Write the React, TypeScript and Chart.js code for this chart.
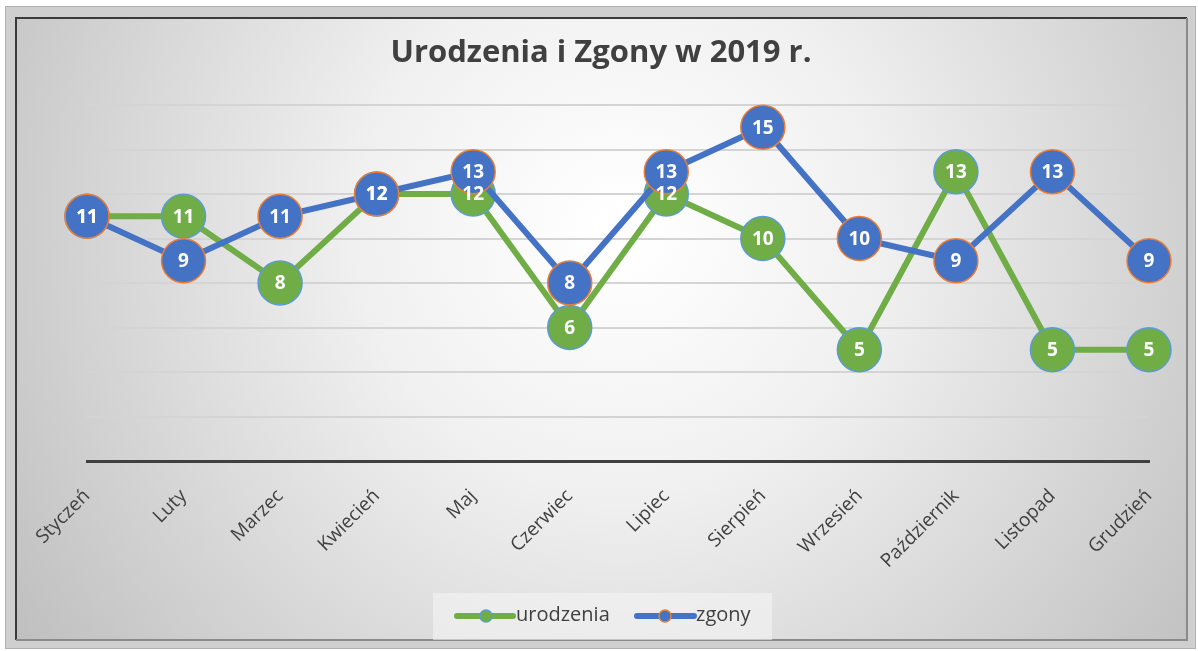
import React, { useEffect, useRef } from "react";
import { Chart, registerables } from "chart.js";

Chart.register(...registerables);

const months = ["Styczeń", "Luty", "Marzec", "Kwiecień", "Maj", "Czerwiec", "Lipiec", "Sierpień", "Wrzesień", "Październik", "Listopad", "Grudzień"];
const urodzenia = [11, 11, 8, 12, 12, 6, 12, 10, 5, 13, 5, 5];
const zgony = [11, 9, 11, 12, 13, 8, 13, 15, 10, 9, 13, 9];
const chartTitle = "Urodzenia i Zgony w 2019 r.";
const seriesNames = ["urodzenia", "zgony"];

const GREEN = "#70AD47";
const GREEN_BORDER = "#5B9BD5";
const BLUE = "#4472C4";
const BLUE_BORDER = "#ED7D31";
const FONT = "'Open Sans', 'Noto Sans', sans-serif";

const W = 1198;
const H = 651;

const decor = {
  id: "decor",
  beforeDraw(chart: any) {
    const ctx = chart.ctx;
    ctx.save();
    ctx.fillStyle = "#ffffff";
    ctx.fillRect(0, 0, W, H);
    ctx.fillStyle = "#cfcfcf";
    ctx.fillRect(5, 6, 1191, 643);
    ctx.strokeStyle = "#b0b0b0";
    ctx.lineWidth = 1;
    ctx.strokeRect(5.5, 6.5, 1190, 642);
    const g = ctx.createRadialGradient(620, 230, 20, 620, 230, 720);
    g.addColorStop(0, "#ffffff");
    g.addColorStop(0.35, "#f0f0f0");
    g.addColorStop(1, "#c0c0c0");
    ctx.fillStyle = g;
    ctx.fillRect(15, 17, 1172, 623);
    ctx.strokeStyle = "#3a3a3a";
    ctx.lineWidth = 2;
    ctx.beginPath();
    ctx.moveTo(16, 640);
    ctx.lineTo(16, 18);
    ctx.lineTo(1187, 18);
    ctx.stroke();
    ctx.strokeStyle = "#8a8a8a";
    ctx.beginPath();
    ctx.moveTo(1187, 18);
    ctx.lineTo(1187, 640);
    ctx.lineTo(16, 640);
    ctx.stroke();
    ctx.fillStyle = "#404040";
    ctx.font = `bold 31px ${FONT}`;
    ctx.textAlign = "center";
    ctx.textBaseline = "middle";
    ctx.fillText(chartTitle, 601, 53);
    ctx.fillStyle = "rgba(245,245,245,0.55)";
    ctx.fillRect(433, 593, 339, 47);
    const items = [
      { name: seriesNames[0], x0: 457, x1: 513, cx: 486, tx: 516, c: GREEN, b: GREEN_BORDER },
      { name: seriesNames[1], x0: 637, x1: 694, cx: 665, tx: 696, c: BLUE, b: BLUE_BORDER },
    ];
    for (const it of items) {
      ctx.strokeStyle = it.c;
      ctx.lineWidth = 6;
      ctx.lineCap = "round";
      ctx.beginPath();
      ctx.moveTo(it.x0, 616);
      ctx.lineTo(it.x1, 616);
      ctx.stroke();
      ctx.beginPath();
      ctx.arc(it.cx, 616, 6, 0, Math.PI * 2);
      ctx.fillStyle = it.c;
      ctx.fill();
      ctx.strokeStyle = it.b;
      ctx.lineWidth = 1.5;
      ctx.stroke();
      ctx.fillStyle = "#404040";
      ctx.font = `20px ${FONT}`;
      ctx.textAlign = "left";
      ctx.textBaseline = "middle";
      ctx.fillText(it.name, it.tx, 615);
    }
    ctx.restore();
  },
};

const dataLabels = {
  id: "dataLabels",
  afterDatasetsDraw(chart: any) {
    const ctx = chart.ctx;
    ctx.save();
    ctx.fillStyle = "#ffffff";
    ctx.font = `bold 19px ${FONT}`;
    ctx.textAlign = "center";
    ctx.textBaseline = "middle";
    chart.data.datasets.forEach((ds: any, i: number) => {
      const meta = chart.getDatasetMeta(i);
      meta.data.forEach((pt: any, j: number) => {
        ctx.fillText(String(ds.data[j]), pt.x, pt.y + 1);
      });
    });
    ctx.restore();
  },
};

export default function App() {
  const ref = useRef<HTMLCanvasElement>(null);
  useEffect(() => {
    if (!ref.current) return;
    const chart = new Chart(ref.current, {
      type: "line",
      data: {
        labels: months,
        datasets: [
          {
            label: seriesNames[0],
            data: urodzenia,
            borderColor: GREEN,
            backgroundColor: GREEN,
            pointBackgroundColor: GREEN,
            pointBorderColor: GREEN_BORDER,
            pointBorderWidth: 1.5,
            pointRadius: 22,
            borderWidth: 6,
            tension: 0,
            order: 2,
            clip: false,
          },
          {
            label: seriesNames[1],
            data: zgony,
            borderColor: BLUE,
            backgroundColor: BLUE,
            pointBackgroundColor: BLUE,
            pointBorderColor: BLUE_BORDER,
            pointBorderWidth: 1.5,
            pointRadius: 22,
            borderWidth: 6,
            tension: 0,
            order: 1,
            clip: false,
          },
        ],
      },
      options: {
        animation: false,
        responsive: false,
        devicePixelRatio: 1,
        layout: { padding: { left: 87, right: 49, top: 105, bottom: 0 } },
        plugins: {
          legend: { display: false },
          title: { display: false },
          tooltip: { enabled: false },
        },
        scales: {
          x: {
            offset: false,
            grid: { display: false },
            border: { display: true, color: "#404040", width: 3 },
            ticks: {
              minRotation: 45,
              maxRotation: 45,
              color: "#404040",
              font: { family: FONT, size: 19 },
              padding: 16,
            },
            afterFit: (s: any) => {
              s.height = 190;
            },
          },
          y: {
            min: 0,
            max: 16,
            ticks: { display: false, stepSize: 2 },
            grid: { color: "#d4d4d4", lineWidth: 2, drawTicks: false },
            border: { display: false },
            afterFit: (s: any) => {
              s.width = 0;
            },
          },
        },
      },
      plugins: [decor, dataLabels],
    });
    return () => chart.destroy();
  }, []);
  return (
    <div style={{ position: "fixed", left: 0, top: 0, width: W, height: H }}>
      <canvas ref={ref} width={W} height={H} style={{ width: W, height: H }} />
    </div>
  );
}
